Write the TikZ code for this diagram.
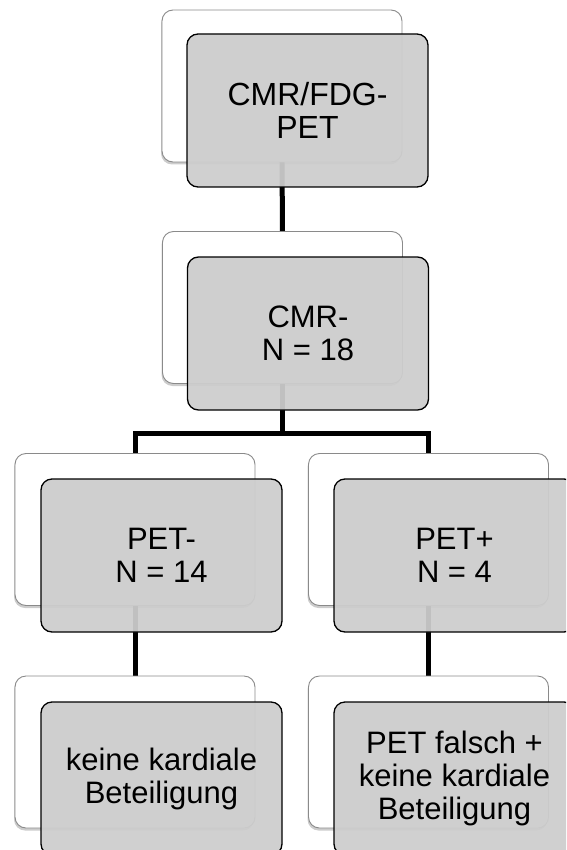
\documentclass[tikz,border=0pt]{standalone}
\usepackage{fontspec}
\setmainfont{Liberation Sans}
\usetikzlibrary{shadows,backgrounds}
\definecolor{cardfill}{RGB}{205,205,205}
\definecolor{backline}{RGB}{138,138,138}
\begin{document}
\begin{tikzpicture}[x=1pt,y=-1pt,
  backcard/.style={draw=backline, line width=0.9pt, fill=white,
    rounded corners=11pt, minimum width=240pt, minimum height=152pt,
    inner sep=0pt, outer sep=0pt,
    drop shadow={shadow xshift=-1pt, shadow yshift=-2.5pt, opacity=0.2, fill=black}},
  frontcard/.style={draw=black, line width=1.3pt, fill=cardfill, fill opacity=0.94,
    text opacity=1, rounded corners=11pt, minimum width=241pt, minimum height=153pt,
    inner sep=0pt, outer sep=0pt, align=center,
    font=\fontsize{31}{33}\selectfont},
  conn/.style={draw=black, line width=5pt, line join=miter}]
\useasboundingbox (0,0) rectangle (566,850);
\clip (0,0) rectangle (566,850);

% white cards
\node[backcard] (b1) at (282,86) {};
\node[backcard] (b2) at (282.5,307.5) {};
\node[backcard] (b3l) at (135,529.5) {};
\node[backcard] (b3r) at (428.5,529.5) {};
\node[backcard] (b4l) at (135,752) {};
\node[backcard] (b4r) at (428.5,752) {};

% connectors, behind the cards
\begin{scope}[on background layer]
  \coordinate (split) at (282.5,433);
  \draw[conn] (b1.south) -- (b2.north);
  \draw[conn] (b2.south) -- (split);
  \draw[conn] (b3l.north) |- (split) -| (b3r.north);
  \draw[conn] (b3l.south) -- (b4l.north);
  \draw[conn] (b3r.south) -- (b4r.north);
\end{scope}

% grey cards with the labels
\node[frontcard, font=\fontsize{32}{33}\selectfont] (g1) at (307.5,110.5) {CMR/FDG-\\PET};
\node[frontcard] (g2) at (308,333.5) {CMR-\\N = 18};
\node[frontcard] (g3l) at (161.5,555.5) {PET-\\N = 14};
\node[frontcard] (g3r) at (454.5,555.5) {PET+\\N = 4};
\node[frontcard] (g4l) at (161.5,778.5) {keine kardiale\\Beteiligung};
\node[frontcard] (g4r) at (454.5,778.5) {PET falsch +\\keine kardiale\\Beteiligung};
\end{tikzpicture}
\end{document}
